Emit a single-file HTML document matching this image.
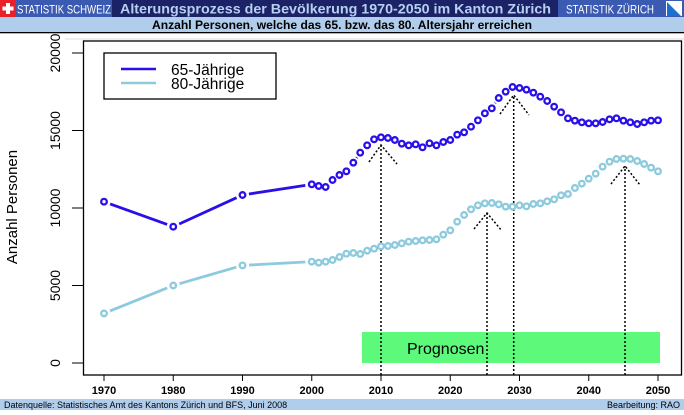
<!DOCTYPE html>
<html><head><meta charset="utf-8"><style>
body{margin:0;width:684px;height:410px;overflow:hidden;background:#fff;font-family:"Liberation Sans",sans-serif;}
</style></head><body>
<svg width="684" height="410" xmlns="http://www.w3.org/2000/svg" font-family="Liberation Sans, sans-serif">
<rect x="0" y="0" width="684" height="17" fill="#1b2266"/>
<rect x="16" y="0" width="96" height="17" fill="#3b5bb3"/>
<rect x="0" y="0" width="16" height="17" fill="#e8202a"/>
<rect x="6" y="3" width="4" height="11" fill="#fff"/><rect x="2.5" y="6.5" width="11" height="4" fill="#fff"/>
<text x="17" y="13.5" font-size="12" fill="#fff" textLength="94" lengthAdjust="spacingAndGlyphs">STATISTIK SCHWEIZ</text>
<text x="120" y="13.5" font-size="14" font-weight="bold" fill="#b7cff0" textLength="431" lengthAdjust="spacingAndGlyphs">Alterungsprozess der Bevölkerung 1970-2050 im Kanton Zürich</text>
<rect x="558" y="0" width="126" height="17" fill="#3b5bb3"/>
<text x="566" y="13.5" font-size="12" fill="#fff" textLength="88" lengthAdjust="spacingAndGlyphs">STATISTIK ZÜRICH</text>
<rect x="666" y="1" width="16" height="15" fill="#fff"/>
<polygon points="667,2 681,16 667,16" fill="#1a6fd0"/>
<rect x="0" y="17" width="684" height="15" fill="#b1cdec"/>
<rect x="0" y="32" width="684" height="1.3" fill="#000"/>
<text x="342" y="29" font-size="12" font-weight="bold" text-anchor="middle" fill="#000" textLength="380" lengthAdjust="spacingAndGlyphs">Anzahl Personen, welche das 65. bzw. das 80. Altersjahr erreichen</text>
<line x1="65" y1="39" x2="684" y2="39" stroke="#ddd"/>
<rect x="83.5" y="41" width="598" height="334" fill="none" stroke="#000" stroke-width="1.3"/>
<g stroke="#000" stroke-width="1">
<line x1="72" y1="53" x2="83" y2="53"/><line x1="72" y1="130.5" x2="83" y2="130.5"/><line x1="72" y1="208" x2="83" y2="208"/><line x1="72" y1="285.5" x2="83" y2="285.5"/><line x1="72" y1="363" x2="83" y2="363"/>
</g>
<g font-size="14" fill="#000" text-anchor="middle">
<text transform="translate(60,53) rotate(-90)">20000</text>
<text transform="translate(60,130.5) rotate(-90)">15000</text>
<text transform="translate(60,208) rotate(-90)">10000</text>
<text transform="translate(60,285.5) rotate(-90)">5000</text>
<text transform="translate(60,363) rotate(-90)">0</text>
<text transform="translate(17,207) rotate(-90)" font-size="15">Anzahl Personen</text>
</g>
<g id="xt" font-size="11" font-weight="bold" fill="#000" text-anchor="middle"></g>
<rect x="362" y="332" width="298" height="31" fill="#5cf97a"/>
<text x="407" y="354" font-size="16" fill="#000">Prognosen</text>
<g id="arr" stroke="#000" stroke-width="1.5" stroke-dasharray="2,2" fill="none"></g>
<g id="ser"></g>
<rect x="104" y="53" width="172" height="46" fill="#fff" stroke="#000" stroke-width="1.3"/>
<line x1="121" y1="69" x2="156" y2="69" stroke="#2a10e8" stroke-width="2.5"/>
<line x1="121" y1="83" x2="156" y2="83" stroke="#8ccade" stroke-width="2.5"/>
<text x="171" y="75" font-size="15.5" fill="#000">65-Jährige</text>
<text x="171" y="89" font-size="15.5" fill="#000">80-Jährige</text>
<rect x="0" y="399" width="684" height="11" fill="#b1cdec"/>
<text x="4" y="408" font-size="9" fill="#000">Datenquelle: Statistisches Amt des Kantons Zürich und BFS, Juni  2008</text>
<text x="680" y="408" font-size="9" fill="#000" text-anchor="end">Bearbeitung: RAO</text>
</svg>
<script>
var NS="http://www.w3.org/2000/svg";
function X(y){return 104+(y-1970)*6.925;}
function el(p,t,a){var e=document.createElementNS(NS,t);for(var k in a)e.setAttribute(k,a[k]);p.appendChild(e);return e;}
var xt=document.getElementById('xt');
for(var y=1970;y<=2050;y+=10){var x=X(y);el(document.querySelector('svg'),'line',{x1:x,y1:375,x2:x,y2:381,stroke:'#000'});var t=el(xt,'text',{x:x,y:394});t.textContent=y;}
var z65=[313,318,321,300,285,274,248,218,196,178,172,174,180,191,196,193,202,190,196,186,180,164,157,140,121,100,85,54,35,21,24,29,38,50,63,80,97,115,122,127,130,130,126,118,115,122,127,132,127,122,121];
var z80=[545,548,545,540,531,521,519,522,512,506,499,498,495,490,485,483,481,480,478,464,451,425,405,388,376,370,369,373,380,380,376,379,372,370,364,358,346,342,324,311,296,281,260,245,237,236,237,243,252,263,274];
function pts(early,z){var p=early.slice();for(var i=0;i<z.length;i++)p.push([2000+i,80+z[i]/3]);return p;}
var s65=pts([[1970,201.7],[1980,226.7],[1990,195]],z65);
var s80=pts([[1970,313.4],[1980,285.5],[1990,265.4]],z80);
var ser=document.getElementById('ser');
function draw(s,c){for(var i=0;i<s.length-1;i++){var x1=X(s[i][0]),y1=s[i][1],x2=X(s[i+1][0]),y2=s[i+1][1];var dx=x2-x1,dy=y2-y1,d=Math.hypot(dx,dy);if(d>12){var g=6.5/d;el(ser,'line',{x1:x1+dx*g,y1:y1+dy*g,x2:x2-dx*g,y2:y2-dy*g,stroke:c,'stroke-width':2.8});}}
for(var i=0;i<s.length;i++)el(ser,'circle',{cx:X(s[i][0]),cy:s[i][1],r:2.8,fill:'#fff',stroke:c,'stroke-width':2.3});}
draw(s80,'#8ccade');draw(s65,'#2a10e8');
var arr=document.getElementById('arr');
[[381,145,369,162,397,164],[487,213,474,229,502,231],[513.7,95,500,114,529,115],[625,166,611,184,640,185]].forEach(function(a){
el(arr,'line',{x1:a[0],y1:375,x2:a[0],y2:a[1]});el(arr,'polyline',{points:a[2]+','+a[3]+' '+a[0]+','+a[1]+' '+a[4]+','+a[5]});});
</script>
</body></html>
